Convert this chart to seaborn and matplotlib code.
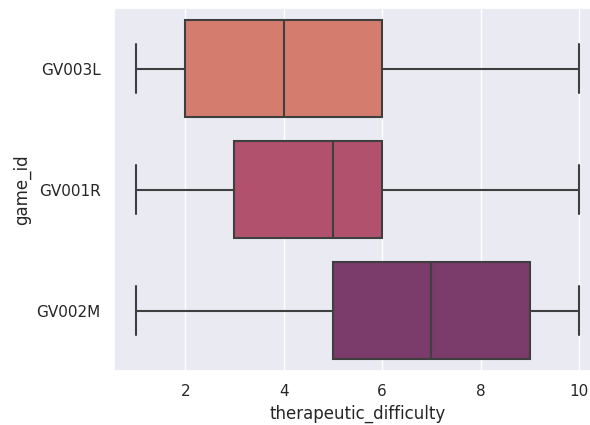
import matplotlib
matplotlib.use("Agg")
import matplotlib.pyplot as plt
import seaborn as sns
import pandas as pd

# Difficulty ratings per game
game_ids = ["GV003L", "GV001R", "GV002M"]
gv003l_scores = [1, 2, 2, 3, 4, 5, 6, 8, 10]
gv001r_scores = [1, 2, 3, 4, 5, 6, 6, 8, 10]
gv002m_scores = [1, 3, 5, 6, 7, 8, 9, 10, 10]

frames = []
for gid, scores in zip(game_ids, [gv003l_scores, gv001r_scores, gv002m_scores]):
    frames.append(pd.DataFrame({"game_id": gid, "therapeutic_difficulty": scores}))
df = pd.concat(frames, ignore_index=True)

sns.set_theme(style="darkgrid")
plt.rcParams["font.family"] = ["DejaVu Sans"]

fig = plt.figure(figsize=(5.9, 4.25), dpi=100)
ax = fig.add_axes([0.193, 0.127, 0.826, 0.854])
sns.boxplot(data=df, x="therapeutic_difficulty", y="game_id", hue="game_id",
            order=game_ids, palette="flare", legend=False, ax=ax,
            linecolor="#3f3f3f", linewidth=1.5)
ax.set_xlim(0.55, 10.45)
ax.set_clip_on(False)
fig.savefig("out.png", dpi=100)
